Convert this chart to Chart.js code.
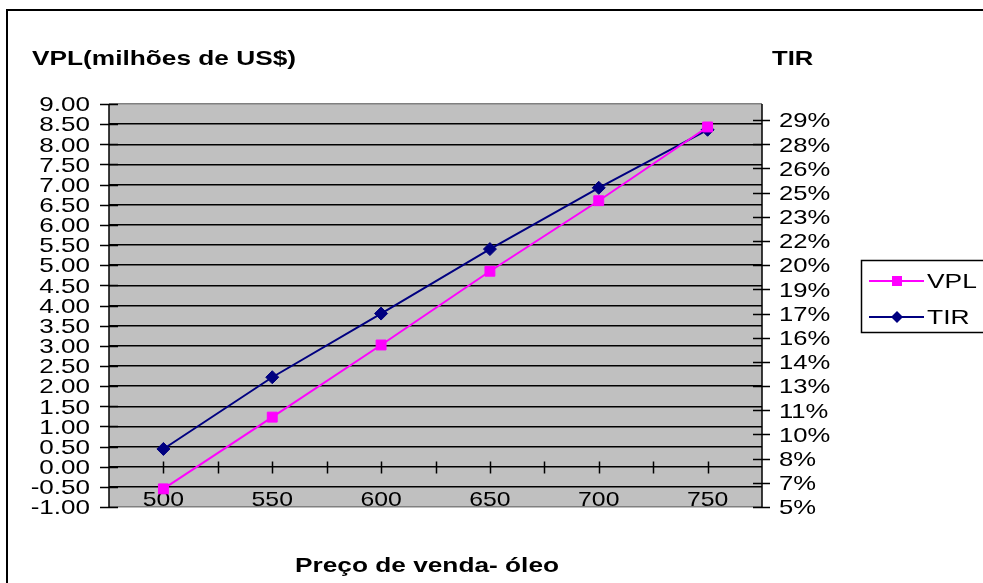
<!DOCTYPE html>
<html>
<head>
<meta charset="utf-8">
<script src="https://cdn.jsdelivr.net/npm/chart.js@4/dist/chart.umd.min.js"></script>
<style>
  html, body { margin: 0; padding: 0; background: #fff; }
  #wrap { width: 983px; height: 583px; position: relative; }
</style>
</head>
<body>
<div id="wrap"><canvas id="c" width="983" height="583"></canvas></div>
<script>
// Oil sale price (categories)
const prices = [500, 550, 600, 650, 700, 750];
// Net present value, millions of US$
const vpl = [-0.55, 1.23, 3.02, 4.85, 6.60, 8.43];
// Internal rate of return, percent
const tir = [8.6, 13.05, 17.0, 21.0, 24.8, 28.4];

// Axis ticks
const priceTickMarks = [500, 525, 550, 575, 600, 625, 650, 675, 700, 725, 750];
const priceLabels = ['500', '550', '600', '650', '700', '750'];
const vplTicks = [-1, -0.5, 0, 0.5, 1, 1.5, 2, 2.5, 3, 3.5, 4, 4.5, 5, 5.5, 6, 6.5, 7, 7.5, 8, 8.5, 9];
const vplTickLabels = ['-1.00', '-0.50', '0.00', '0.50', '1.00', '1.50', '2.00', '2.50', '3.00', '3.50', '4.00',
                       '4.50', '5.00', '5.50', '6.00', '6.50', '7.00', '7.50', '8.00', '8.50', '9.00'];
const tirTicks = [5, 6.5, 8, 9.5, 11, 12.5, 14, 15.5, 17, 18.5, 20, 21.5, 23, 24.5, 26, 27.5, 29];
const tirTickLabels = ['5%', '7%', '8%', '10%', '11%', '13%', '14%', '16%', '17%', '19%', '20%',
                       '22%', '23%', '25%', '26%', '28%', '29%'];

const FAMILY = '"Liberation Sans", Arial, Helvetica, sans-serif';
const PINK = '#FF00FF';
const NAVY = '#000080';

// Text drawn with a horizontal stretch factor (wide Excel-style lettering)
function wideText(ctx, text, x, y, font, align, baseline, sx) {
  ctx.save();
  ctx.font = font;
  ctx.textBaseline = baseline;
  ctx.textAlign = 'left';
  ctx.fillStyle = '#000';
  const w = ctx.measureText(text).width * sx;
  let left = x;
  if (align === 'right') left = x - w;
  else if (align === 'center') left = x - w / 2;
  ctx.translate(left, y);
  ctx.scale(sx, 1);
  ctx.fillText(text, 0, 0);
  ctx.restore();
}

const decor = {
  id: 'decor',
  beforeDraw(chart) {
    const { ctx, chartArea: a } = chart;
    ctx.save();
    ctx.fillStyle = '#fff';
    ctx.fillRect(0, 0, chart.width, chart.height);
    // outer frame
    ctx.strokeStyle = '#000';
    ctx.lineWidth = 2;
    ctx.beginPath();
    ctx.moveTo(7, chart.height + 5);
    ctx.lineTo(7, 10);
    ctx.lineTo(chart.width + 5, 10);
    ctx.stroke();
    // plot area
    ctx.fillStyle = '#C0C0C0';
    ctx.fillRect(a.left, a.top, a.right - a.left, a.bottom - a.top);
    ctx.restore();
  },
  beforeDatasetsDraw(chart) {
    const { ctx, chartArea: a, scales } = chart;
    const x = scales.x, y = scales.y, y2 = scales.y2;
    ctx.save();
    ctx.strokeStyle = '#000';
    ctx.lineWidth = 1.5;
    // left axis + ticks
    ctx.beginPath();
    ctx.moveTo(a.left, a.top);
    ctx.lineTo(a.left, a.bottom);
    vplTicks.forEach(v => {
      const py = Math.round(y.getPixelForValue(v)) + 0.5;
      ctx.moveTo(a.left - 9, py);
      ctx.lineTo(a.left + 9, py);
    });
    ctx.stroke();
    // right axis + ticks
    ctx.beginPath();
    ctx.moveTo(a.right, a.top);
    ctx.lineTo(a.right, a.bottom);
    tirTicks.forEach(v => {
      const py = Math.round(y2.getPixelForValue(v)) + 0.5;
      ctx.moveTo(a.right - 9, py);
      ctx.lineTo(a.right + 8, py);
    });
    ctx.stroke();
    // category axis crossing at zero
    const y0 = Math.round(y.getPixelForValue(0)) + 0.5;
    ctx.beginPath();
    priceTickMarks.forEach(v => {
      const px = Math.round(x.getPixelForValue(v)) + 0.5;
      ctx.moveTo(px, y0 - 6);
      ctx.lineTo(px, y0 + 6);
    });
    ctx.stroke();
    ctx.restore();

    // tick labels
    const tickFont = '21px ' + FAMILY;
    vplTicks.forEach((v, i) => {
      wideText(ctx, vplTickLabels[i], a.left - 19, y.getPixelForValue(v) + 1.5, tickFont, 'right', 'middle', 1.24);
    });
    tirTicks.forEach((v, i) => {
      wideText(ctx, tirTickLabels[i], a.right + 17, y2.getPixelForValue(v) + 1.5, tickFont, 'left', 'middle', 1.22);
    });
    prices.forEach((v, i) => {
      wideText(ctx, priceLabels[i], x.getPixelForValue(v), a.bottom - 1, tickFont, 'center', 'alphabetic', 1.18);
    });

    // titles
    const titleFont = 'bold 21px ' + FAMILY;
    wideText(ctx, 'VPL(milhões de US$)', 32, 65, titleFont, 'left', 'alphabetic', 1.25);
    wideText(ctx, 'TIR', 772, 65, titleFont, 'left', 'alphabetic', 1.22);
    wideText(ctx, 'Preço de venda- óleo', 295, 572, titleFont, 'left', 'alphabetic', 1.25);
  },
  afterDraw(chart) {
    const { ctx } = chart;
    // legend
    ctx.save();
    ctx.strokeStyle = '#000';
    ctx.lineWidth = 1.5;
    ctx.strokeRect(861.5, 260.5, 140, 72);
    const rows = [
      { label: 'VPL', color: PINK, y: 281, style: 'rect' },
      { label: 'TIR', color: NAVY, y: 317, style: 'diamond' }
    ];
    rows.forEach(r => {
      ctx.strokeStyle = r.color;
      ctx.lineWidth = 2;
      ctx.beginPath();
      ctx.moveTo(869, r.y);
      ctx.lineTo(924, r.y);
      ctx.stroke();
      ctx.fillStyle = r.color;
      ctx.beginPath();
      if (r.style === 'rect') {
        ctx.rect(892, r.y - 5, 10, 10);
      } else {
        ctx.moveTo(897, r.y - 6);
        ctx.lineTo(903, r.y);
        ctx.lineTo(897, r.y + 6);
        ctx.lineTo(891, r.y);
        ctx.closePath();
      }
      ctx.fill();
      wideText(ctx, r.label, 927, r.y + 1.5, '20px ' + FAMILY, 'left', 'middle', 1.32);
    });
    ctx.restore();
  }
};

new Chart(document.getElementById('c'), {
  type: 'line',
  data: {
    datasets: [
      {
        label: 'VPL',
        data: prices.map((p, i) => ({ x: p, y: vpl[i] })),
        yAxisID: 'y',
        borderColor: PINK,
        backgroundColor: PINK,
        borderWidth: 2,
        pointStyle: 'rect',
        pointRadius: 7,
        pointBorderWidth: 1,
        pointBorderColor: PINK,
        pointBackgroundColor: PINK,
        tension: 0
      },
      {
        label: 'TIR',
        data: prices.map((p, i) => ({ x: p, y: tir[i] })),
        yAxisID: 'y2',
        borderColor: NAVY,
        backgroundColor: NAVY,
        borderWidth: 2,
        pointStyle: 'rectRot',
        pointRadius: 6.5,
        pointBorderWidth: 1,
        pointBorderColor: NAVY,
        pointBackgroundColor: NAVY,
        tension: 0
      }
    ]
  },
  options: {
    responsive: false,
    animation: false,
    devicePixelRatio: 1,
    layout: { padding: { left: 109, right: 221, top: 104, bottom: 76 } },
    plugins: { legend: { display: false }, title: { display: false }, tooltip: { enabled: false } },
    scales: {
      x: {
        type: 'linear', min: 475, max: 775, display: false
      },
      y: {
        type: 'linear', position: 'left', min: -1, max: 9,
        afterBuildTicks: s => { s.ticks = vplTicks.map(v => ({ value: v })); },
        afterFit: s => { s.width = 0; },
        ticks: { display: false },
        border: { display: false },
        grid: {
          drawTicks: false,
          lineWidth: 1.5,
          color: c => (c.tick && (c.tick.value === 9 || c.tick.value === -1)) ? '#808080' : '#000'
        }
      },
      y2: {
        type: 'linear', position: 'right', min: 5, max: 30, display: false
      }
    }
  },
  plugins: [decor]
});
</script>
</body>
</html>
